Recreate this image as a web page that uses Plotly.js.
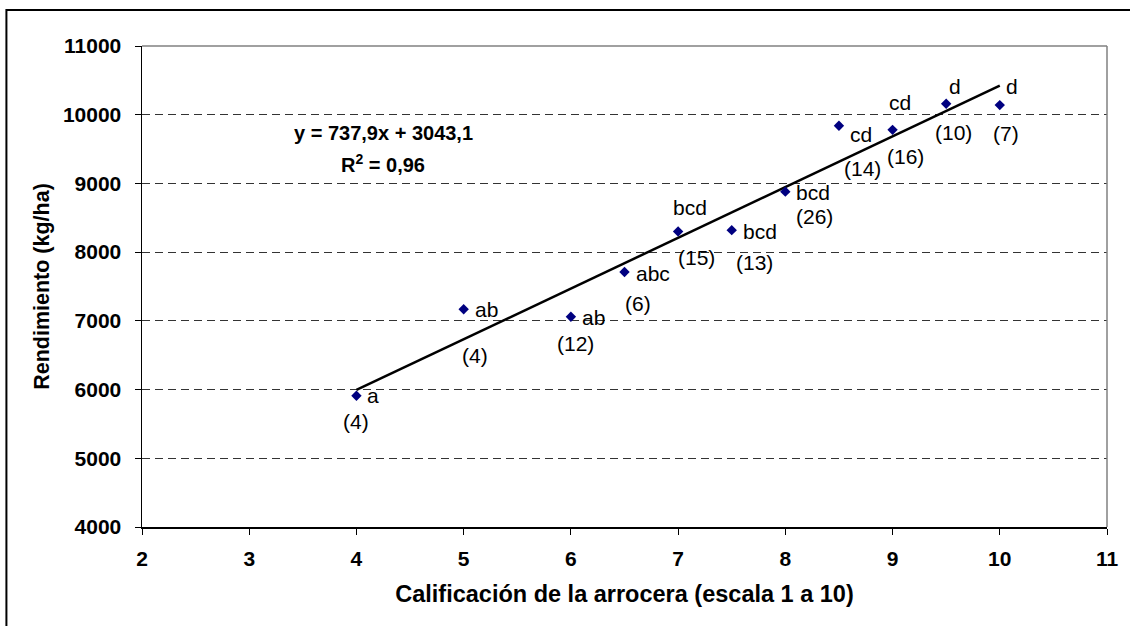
<!DOCTYPE html>
<html>
<head>
<meta charset="utf-8">
<script src="https://cdn.plot.ly/plotly-3.0.1.min.js"></script>
<style>
  html, body { margin: 0; padding: 0; background: #fff; overflow: hidden; }
  #chart { width: 1130px; height: 626px; }
</style>
</head>
<body>
<div id="chart"></div>
<script>
// ---- data ----
const calificacion = [4, 5, 6, 6.5, 7, 7.5, 8, 8.5, 9, 9.5, 10];
const rendimiento  = [5910, 7170, 7060, 7710, 8300, 8320, 8880, 9840, 9780, 10160, 10140];
const letras       = ['a', 'ab', 'ab', 'abc', 'bcd', 'bcd', 'bcd', 'cd', 'cd', 'd', 'd'];
const nObs         = ['(4)', '(4)', '(12)', '(6)', '(15)', '(13)', '(26)', '(14)', '(16)', '(10)', '(7)'];
const pendiente = 737.9;
const intercepto = 3043.1;
const r2 = '0,96';
const trendX = [4, 10];
const xTicks = [2, 3, 4, 5, 6, 7, 8, 9, 10, 11];
const yTicks = [4000, 5000, 6000, 7000, 8000, 9000, 10000, 11000];

// ---- label offsets (pixels, style only) ----
const letraShift = [[17, 0], [23, 0], [23, -1], [28, -1], [12, 24], [28, -1], [28, -1], [22, -9], [7, 27], [9, 17], [12, 19]];
const nShift     = [[0, -26], [11, -46], [5, -27], [13, -31], [18, -26], [23, -32], [29, -25], [24, -43], [13, -27], [7, -29], [6, -28]];

const FONT = '"Liberation Sans", Arial, sans-serif';

const trendY = trendX.map(x => pendiente * x + intercepto);

const traces = [
  {
    x: trendX, y: trendY, mode: 'lines', type: 'scatter',
    line: { color: '#000000', width: 2.5 }, hoverinfo: 'skip', showlegend: false
  },
  {
    x: calificacion, y: rendimiento, mode: 'markers', type: 'scatter',
    marker: { symbol: 'diamond', size: 8, color: '#000080', line: { width: 0 } },
    showlegend: false
  }
];

const annotations = [];
calificacion.forEach((x, i) => {
  annotations.push({
    x: x, y: rendimiento[i], xref: 'x', yref: 'y', text: letras[i], showarrow: false,
    xshift: letraShift[i][0], yshift: letraShift[i][1],
    font: { family: FONT, size: 21, color: '#000' }
  });
  annotations.push({
    x: x, y: rendimiento[i], xref: 'x', yref: 'y', text: nObs[i], showarrow: false,
    xshift: nShift[i][0], yshift: nShift[i][1],
    font: { family: FONT, size: 21, color: '#000' }
  });
});
const eqText = 'y = ' + pendiente.toString().replace('.', ',') + 'x + ' + intercepto.toString().replace('.', ',');
annotations.push({
  x: 0.25, y: 0.8186, xref: 'paper', yref: 'paper', text: '<b>' + eqText + '</b>', showarrow: false,
  xanchor: 'center', yanchor: 'middle', font: { family: FONT, size: 20, color: '#000' }
});
annotations.push({
  x: 0.25, y: 0.7563, xref: 'paper', yref: 'paper', text: '<b>R<sup>2</sup> = ' + r2 + '</b>', showarrow: false,
  xanchor: 'center', yanchor: 'middle', font: { family: FONT, size: 20, color: '#000' }
});

const layout = {
  width: 1130, height: 626,
  margin: { l: 142, r: 23, t: 46, b: 99 },
  paper_bgcolor: '#ffffff', plot_bgcolor: '#ffffff',
  font: { family: FONT, color: '#000' },
  showlegend: false,
  xaxis: {
    range: [2, 11], tickvals: xTicks, ticktext: xTicks.map(String),
    showgrid: false, zeroline: false,
    showline: true, linecolor: '#000', linewidth: 1.5,
    ticks: 'outside', ticklen: 6, tickcolor: '#000', tickwidth: 1,
    ticklabelstandoff: 6,
    tickfont: { family: FONT, size: 21, color: '#000', weight: 'bold' },
    title: { text: '<b>Calificación de la arrocera (escala 1 a 10)</b>', font: { family: FONT, size: 23.5, color: '#000' }, standoff: 17 }
  },
  yaxis: {
    range: [4000, 11000], tickvals: yTicks, ticktext: yTicks.map(String),
    showgrid: true, gridcolor: '#333333', gridwidth: 1, griddash: '8px,5px',
    zeroline: false,
    showline: true, linecolor: '#000', linewidth: 1.5,
    ticks: 'outside', ticklen: 6, tickcolor: '#000', tickwidth: 1,
    ticklabelstandoff: 9,
    tickfont: { family: FONT, size: 21, color: '#000', weight: 'bold' },
    title: { text: '<b>Rendimiento (kg/ha)</b>', font: { family: FONT, size: 21.5, color: '#000' }, standoff: 7 }
  },
  shapes: [
    { type: 'line', xref: 'paper', yref: 'paper', x0: 0, x1: 1, y0: 1, y1: 1, line: { color: '#808080', width: 1.5 }, layer: 'above' },
    { type: 'line', xref: 'paper', yref: 'paper', x0: 1, x1: 1, y0: 0, y1: 1, line: { color: '#808080', width: 1.5 }, layer: 'above' },
    { type: 'rect', xref: 'paper', yref: 'paper', x0: -0.1405, x1: 1.2, y0: -0.4, y1: 1.0748, line: { color: '#000', width: 2 }, layer: 'below' }
  ],
  annotations: annotations
};

Plotly.newPlot('chart', traces, layout, { displayModeBar: false, staticPlot: true });
</script>
</body>
</html>
